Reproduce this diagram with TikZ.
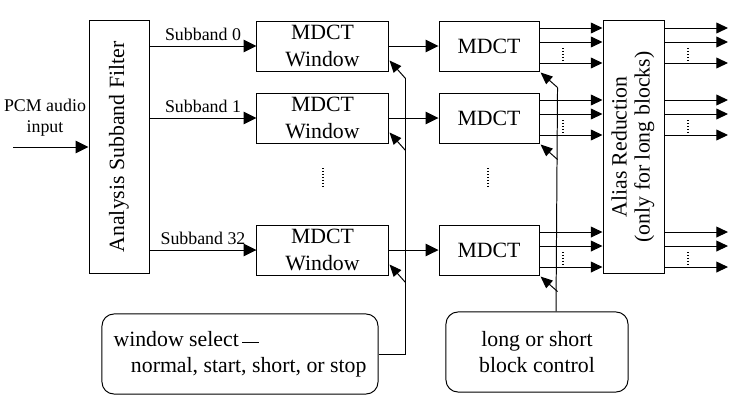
\documentclass[tikz,border=0pt]{standalone}
\usepackage{fontspec}
\setmainfont{Liberation Serif}
\usepackage{graphicx}
\usetikzlibrary{positioning,arrows.meta}
\tikzset{ %x=0.025cm, y=-0.025cm below: one unit is one pixel
  >={Triangle[length=3.2mm,width=3.1mm]},
  {block/.style} ={draw,line width=0.7pt,inner sep=0pt,align=center,
  font=\fontsize{15.5}{18.6}\selectfont},
  {win/.style} ={block,minimum width=3.275cm,minimum height=1.25cm},
  {mdct/.style} ={block,minimum width=2.5cm,minimum height=1.25cm},
  {ctrlbox/.style} ={block,rounded corners=3mm,minimum height=2cm},
  {sb/.style} ={font=\fontsize{12.7}{15}\selectfont},
  {wire/.style} ={draw,line width=0.7pt},
  {dwire/.style} ={wire,->},
  {bwire/.style} ={wire,-{Triangle[length=2.9mm,width=2.7mm]}},
  {ctrl/.style} ={wire,-{Triangle[length=3mm,width=2.5mm]}},
  {dots/.style} ={line width=0.9pt,dash pattern=on 0.7pt off 1.4pt},
 }
\begin{document}
\begin{tikzpicture}[x=0.025cm,y=-0.025cm]
        \useasboundingbox (0,0) rectangle (745,401);
        \node[block,minimum width=1.5cm,minimum height=6.3cm] (filt) at (119,147)
                {\rotatebox{90}{Analysis Subband Filter}};
        \node[win] (w0) at (322.5,46) {MDCT\\Window};
        \node[win] (w1) [below=0.525cm of w0] {MDCT\\Window};
        \node[win] (w2) [below=2.025cm of w1] {MDCT\\Window};
        \node[mdct] (m0) [right=1.25cm of w0] {MDCT};
        \node[mdct] (m1) [right=1.25cm of w1] {MDCT};
        \node[mdct] (m2) [right=1.25cm of w2] {MDCT};
        \node[block,minimum width=1.525cm,minimum height=6.3cm] (alias) at (633.5,147)
                {\rotatebox{90}{\renewcommand{\arraystretch}{0.88}%
                \begin{tabular}{@{}c@{}}Alias Reduction\\(only for long blocks)\end{tabular}}};
        \node[ctrlbox,minimum width=6.9cm,align=left] (wsel) at (240,354)
                {window select\,\raisebox{0.3ex}{\rule{0.75em}{0.5pt}}\\
                \hspace*{0.8em}normal, start, short, or stop};
        \node[ctrlbox,minimum width=4.55cm] (lbc) at (537,352)
                {long or short\\block control};
        \node[sb,align=center] (pcm) at (45,118) {PCM audio\\input};
        \coordinate (in) at (13,147);
        \coordinate (outx) at (728,0);
        \coordinate (dA) at (563,0);
        \coordinate (dB) at (688,0);
        %subbands
        \draw[dwire] (in) -- (filt.west);
        \draw[dwire] (filt.east |- w0) -- node[above,sb] {Subband 0} (w0.west);
        \draw[dwire] (filt.east |- w1) -- node[above,sb] {Subband 1} (w1.west);
        \draw[dwire] (filt.east |- w2) -- node[above,sb] {Subband 32} (w2.west);
        \foreach \i in {0,1,2}
                \draw[dwire] (w\i.east) -- (m\i.west);
        %MDCT lines, alias outputs
        \foreach \m in {m0,m1,m2}{
                \foreach \o in {-18,-4,17}{
                        \path ([shift={(0,\o)}]\m.east) coordinate (p);
                        \draw[bwire] (p) -- (p -| alias.west);
                        \draw[bwire] (p -| alias.east) -- (p -| outx);
                }
                \path ([shift={(0,2)}]\m.east) coordinate (d1)
                        ([shift={(0,15)}]\m.east) coordinate (d2);
                \draw[dots] (d1 -| dA) -- (d2 -| dA);
                \draw[dots] (d1 -| dB) -- (d2 -| dB);
        }
        \draw[dots] (323,168) -- (323,188);
        \draw[dots] (488,168) -- (488,188);
        %window select
        \draw[wire] (wsel.east) -| ([shift={(17,7)}]w0.south east);
        \foreach \w in {w0,w1,w2}
                \draw[ctrl] ([shift={(17,7)}]\w.south east) -- ([shift={(1,-11)}]\w.south east);
        %block control
        \draw[wire] ([shift={(19,0)}]lbc.north) -- ([shift={(18,16)}]m0.south east);
        \foreach \m in {m0,m1,m2}
                \draw[ctrl] ([shift={(18,16)}]\m.south east) -- ([shift={(1,1)}]\m.south east);
\end{tikzpicture}
\end{document}
